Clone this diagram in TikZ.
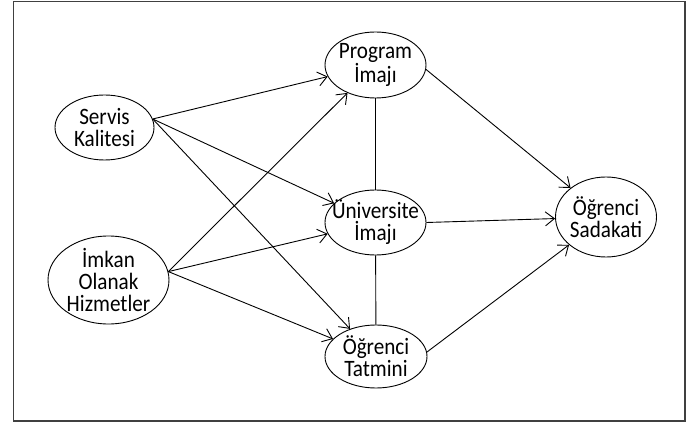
\documentclass[tikz,border=0pt]{standalone}
\usepackage{fontspec}
\setmainfont{Carlito}[FakeStretch=0.9]
\usepackage{tikz}
\usetikzlibrary{shapes,arrows.meta}
\usetikzlibrary{positioning}

\begin{document}
\begin{tikzpicture}[x=1pt,y=-1pt,
    node distance = 0mm,
every node/.style = {inner sep=0pt,align=center,
    font=\fontsize{23.5}{22}\selectfont},
 konstrukt/.style = {ellipse,draw,line width=0.9pt,
                     inner xsep=-20pt,inner ysep=-12pt},
      yol/.style = {line width=0.9pt,-{Straight Barb[length=9pt,width=14pt,line width=0.9pt]}},
      bag/.style = {line width=0.9pt}]
\useasboundingbox (0,0) rectangle (688,422);
\draw[line width=1.6pt,draw=black!75] (13.5,1.5) rectangle (685,421);

\node[konstrukt,minimum width=99pt,minimum height=65pt]
      (servis)   at (104.5,127.5) {Servis\\Kalitesi};
\node[konstrukt,minimum width=121pt,minimum height=88pt]
      (imkan)    at (108.5,280)   {İmkan\\Olanak\\Hizmetler};

\node[konstrukt,minimum width=101pt,minimum height=66pt]
      (program)  at (375.5,65)    {Program\\İmajı};
\node[konstrukt,minimum width=101pt,minimum height=65pt]
      (univ)     at (375.5,222.5) {Üniversite\\İmajı};
\node[konstrukt,minimum width=102pt,minimum height=63pt]
      (tatmin)   at (376,356.5)   {Öğrenci\\Tatmini};

\node[konstrukt,minimum width=101pt,minimum height=80pt]
      (sadakat)  at (606,217)     {Öğrenci\\Sadakati};


\draw[yol] (servis.10) -- (program);
\draw[yol] (servis.10) -- (univ);
\draw[yol] (servis.10) -- (tatmin);

\draw[yol] (imkan.8) -- (program);
\draw[yol] (imkan.8) -- (univ);
\draw[yol] (imkan.8) -- (tatmin);


\draw[bag] (program) -- (univ);
\draw[bag] (univ) -- (tatmin);

\draw[yol] (program.-5) -- (sadakat);
\draw[yol] (univ.0) -- (sadakat);
\draw[yol] (tatmin.5) -- (sadakat);

\end{tikzpicture}
\end{document}
